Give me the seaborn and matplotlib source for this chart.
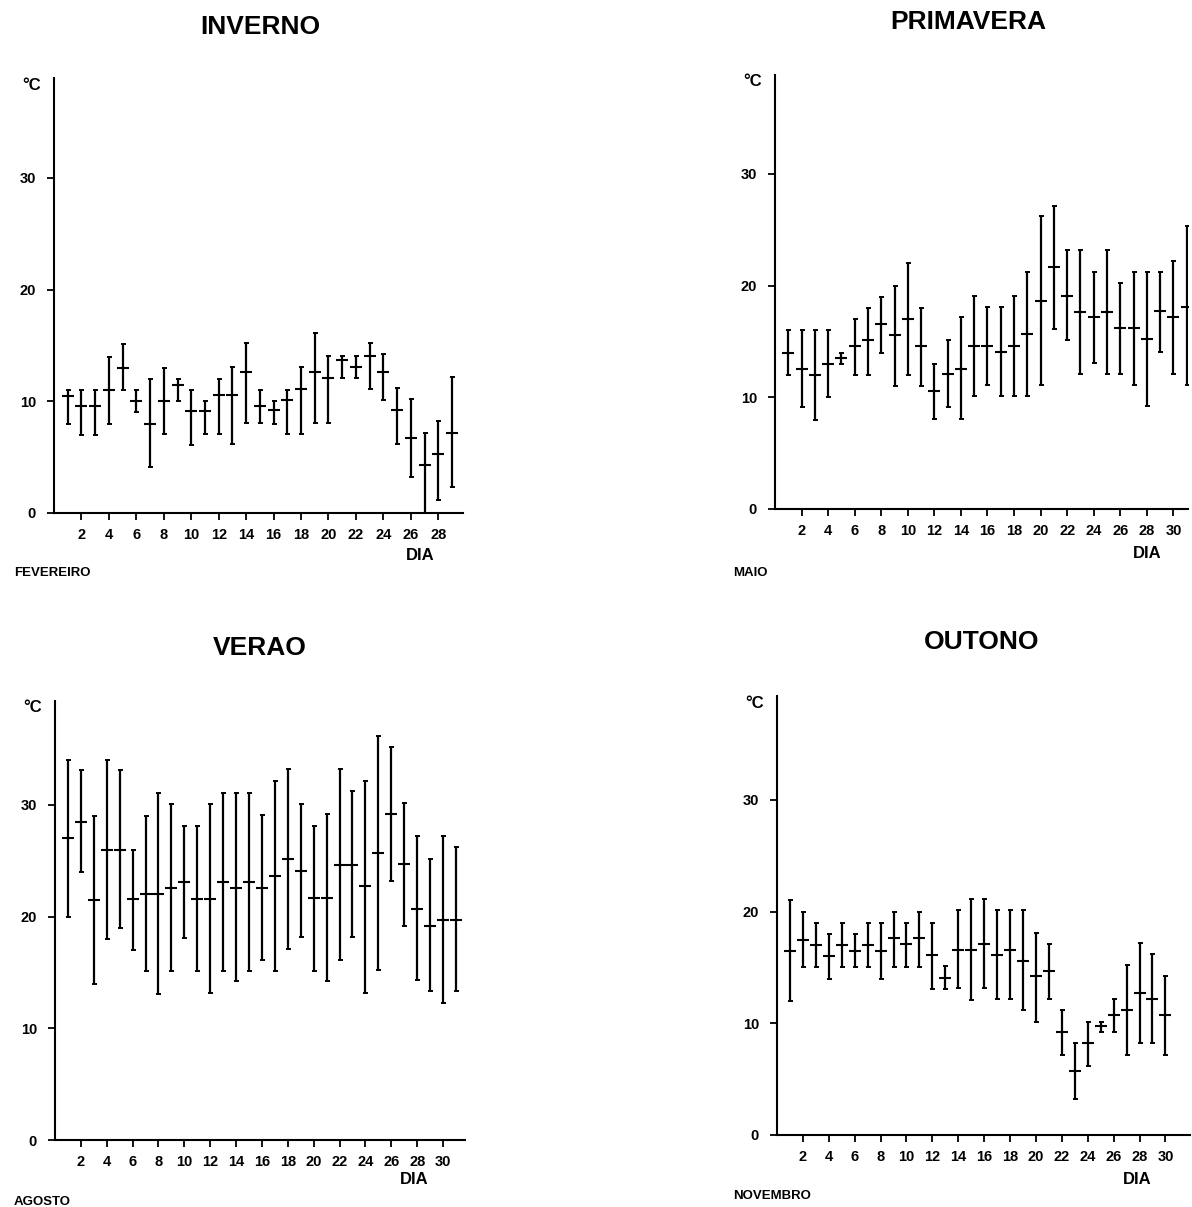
import matplotlib
matplotlib.use('Agg')
import matplotlib.pyplot as plt
import numpy as np
import seaborn as sns

# DAILY TEMPERATURE (MEAN, MIN, MAX) PER SEASON
fev_mean = [10.5, 9.6, 9.6, 11, 13, 10, 8, 10, 11.5, 9.1, 9.1, 10.6, 10.6, 12.6, 9.6,
            9.2, 10.1, 11.1, 12.6, 12.1, 13.7, 13.1, 14.1, 12.6, 9.2, 6.7, 4.3, 5.3, 7.2]
fev_min = [8, 7, 7, 8, 11, 9, 4.1, 7.1, 10, 6.1, 7.1, 7.1, 6.2, 8.1, 8.1,
           8, 7.1, 7.1, 8.1, 8.1, 12.1, 12.1, 11.1, 10.1, 6.2, 3.2, 0, 1.2, 2.3]
fev_max = [11, 11, 11, 14, 15.1, 11, 12, 13, 12, 11, 10, 12, 13.1, 15.2, 11,
           10, 11, 13.1, 16.1, 14.1, 14.1, 14.1, 15.2, 14.2, 11.2, 10.2, 7.2, 8.2, 12.2]

mai_mean = [14, 12.5, 12, 13, 13.5, 14.6, 15.1, 16.6, 15.6, 17, 14.6, 10.6, 12.1, 12.5, 14.6,
            14.6, 14.1, 14.6, 15.7, 18.6, 21.7, 19.1, 17.6, 17.2, 17.6, 16.2, 16.2, 15.2, 17.7, 17.2, 18.1]
mai_min = [12, 9.1, 8, 10, 13, 12, 12, 14, 11, 12, 11, 8.1, 9.1, 8.1, 10.1,
           11.1, 10.1, 10.1, 10.1, 11.1, 16.1, 15.1, 12.1, 13.1, 12.1, 12.1, 11.1, 9.2, 14.1, 12.1, 11.1]
mai_max = [16, 16, 16, 16, 14, 17, 18, 19, 20, 22, 18, 13, 15.1, 17.2, 19.1,
           18.1, 18.1, 19.1, 21.2, 26.2, 27.1, 23.2, 23.2, 21.2, 23.2, 20.2, 21.2, 21.2, 21.2, 22.2, 25.3]

ago_mean = [27, 28.5, 21.5, 26, 26, 21.6, 22, 22, 22.6, 23.1, 21.6, 21.6, 23.1, 22.6, 23.1,
            22.6, 23.6, 25.2, 24.1, 21.7, 21.7, 24.6, 24.6, 22.7, 25.7, 29.2, 24.7, 20.7, 19.2, 19.7, 19.7]
ago_min = [20, 24, 14, 18, 19, 17, 15.1, 13.1, 15.1, 18.1, 15.1, 13.2, 15.1, 14.2, 15.1,
           16.1, 15.1, 17.1, 18.2, 15.1, 14.2, 16.1, 18.2, 13.2, 15.2, 23.2, 19.2, 14.3, 13.3, 12.3, 13.3]
ago_max = [34, 33.1, 29, 34, 33.1, 26, 29, 31.1, 30.1, 28.1, 28.1, 30.1, 31.1, 31.1, 31.1,
           29.1, 32.1, 33.2, 30.1, 28.1, 29.2, 33.2, 31.2, 32.1, 36.2, 35.2, 30.2, 27.2, 25.2, 27.2, 26.2]

nov_mean = [16.5, 17.5, 17, 16, 17, 16.5, 17, 16.5, 17.6, 17.1, 17.6, 16.1, 14.1, 16.6, 16.6,
            17.1, 16.1, 16.6, 15.6, 14.2, 14.7, 9.2, 5.7, 8.2, 9.8, 10.7, 11.2, 12.7, 12.2, 10.7]
nov_min = [12, 15, 15, 14, 15, 15, 15, 14, 15, 15, 15, 13.1, 13.1, 13.2, 12.1,
           13.2, 12.2, 12.2, 11.2, 10.1, 12.2, 7.2, 3.2, 6.2, 9.2, 9.2, 7.2, 8.2, 8.2, 7.2]
nov_max = [21, 20, 19, 18, 19, 18, 19, 19, 20, 19, 20, 19, 15.1, 20.1, 21.1,
           21.1, 20.1, 20.1, 20.1, 18.1, 17.1, 11.2, 8.2, 10.1, 10.1, 12.2, 15.2, 17.2, 16.2, 14.2]

titles = ['INVERNO', 'PRIMAVERA', 'VERAO', 'OUTONO']
months = ['FEVEREIRO', 'MAIO', 'AGOSTO', 'NOVEMBRO']
y_ticks = [0, 10, 20, 30]

sns.set_style('ticks')
plt.rcParams['font.family'] = ['Liberation Sans', 'DejaVu Sans']
plt.rcParams['font.weight'] = 'bold'
plt.rcParams['text.color'] = 'black'
plt.rcParams['xtick.color'] = 'black'
plt.rcParams['ytick.color'] = 'black'
plt.rcParams['axes.labelcolor'] = 'black'

W, H = 1192, 1207
fig = plt.figure(figsize=(W / 100, H / 100), dpi=100)


def px_axes(left, right, bottom, top):
    return fig.add_axes([left / W, 1 - bottom / H, (right - left) / W, (bottom - top) / H])


# PIXEL BOXES OF EACH PANEL (LEFT, RIGHT, ZERO LINE, TOP)
boxes = [(54, 463, 513, 78), (775, 1188, 509, 75), (55, 465, 1140, 701), (777, 1190, 1135, 696)]
xmax = [29.8, 31.1, 31.7, 31.9]
series = [(fev_mean, fev_min, fev_max), (mai_mean, mai_min, mai_max),
          (ago_mean, ago_min, ago_max), (nov_mean, nov_min, nov_max)]
title_pos = [(260, 27), (968, 22), (260, 648), (982, 642)]
dia_pos = [(420, 555), (1147, 553), (414, 1180), (1137, 1180)]
month_pos = [(14, 573), (733, 573), (14, 1202), (733, 1196)]

for i, (mean, low, high) in enumerate(series):
    left, right, bottom, top = boxes[i]
    ax = px_axes(left, right, bottom, top)
    days = np.arange(1, len(mean) + 1)
    mean = np.array(mean)
    low = np.array(low)
    high = np.array(high)

    # RANGE BARS
    ax.errorbar(days, mean, yerr=[mean - low, high - mean], fmt='none',
                ecolor='black', elinewidth=1.6, capsize=1.8, capthick=1.4)
    # MEAN MARKS
    sns.scatterplot(x=days, y=mean, marker='_', s=80, color='black',
                    linewidth=1.5, ax=ax, zorder=3)

    ax.set_xlim(0, xmax[i])
    ax.set_ylim(0, (bottom - top) / 11.17)
    ax.set_xticks(np.arange(2, len(mean) + 1, 2))
    ax.set_yticks(y_ticks)
    ax.tick_params(axis='both', direction='out', length=5, width=1.3, color='black',
                   labelsize=10.5, labelcolor='black')
    ax.tick_params(axis='x', pad=6)
    ax.tick_params(axis='y', pad=8)
    for lab in ax.get_xticklabels() + ax.get_yticklabels():
        lab.set_fontweight('bold')
    sns.despine(ax=ax)
    for sp in ['left', 'bottom']:
        ax.spines[sp].set_linewidth(1.5)
        ax.spines[sp].set_color('black')

    # TEXT LABELS
    tx, ty = title_pos[i]
    fig.text(tx / W, 1 - ty / H, titles[i], ha='center', va='center',
             fontsize=19, fontweight='bold')
    dx, dy = dia_pos[i]
    fig.text(dx / W, 1 - dy / H, 'DIA', ha='center', va='center',
             fontsize=12, fontweight='bold')
    mx, my = month_pos[i]
    fig.text(mx / W, 1 - my / H, months[i], ha='left', va='center',
             fontsize=9.5, fontweight='bold')
    fig.text((left - 22) / W, 1 - (top + 7) / H, '°C', ha='center', va='center',
             fontsize=12, fontweight='bold')

fig.savefig('out.png', dpi=100, facecolor='white')
